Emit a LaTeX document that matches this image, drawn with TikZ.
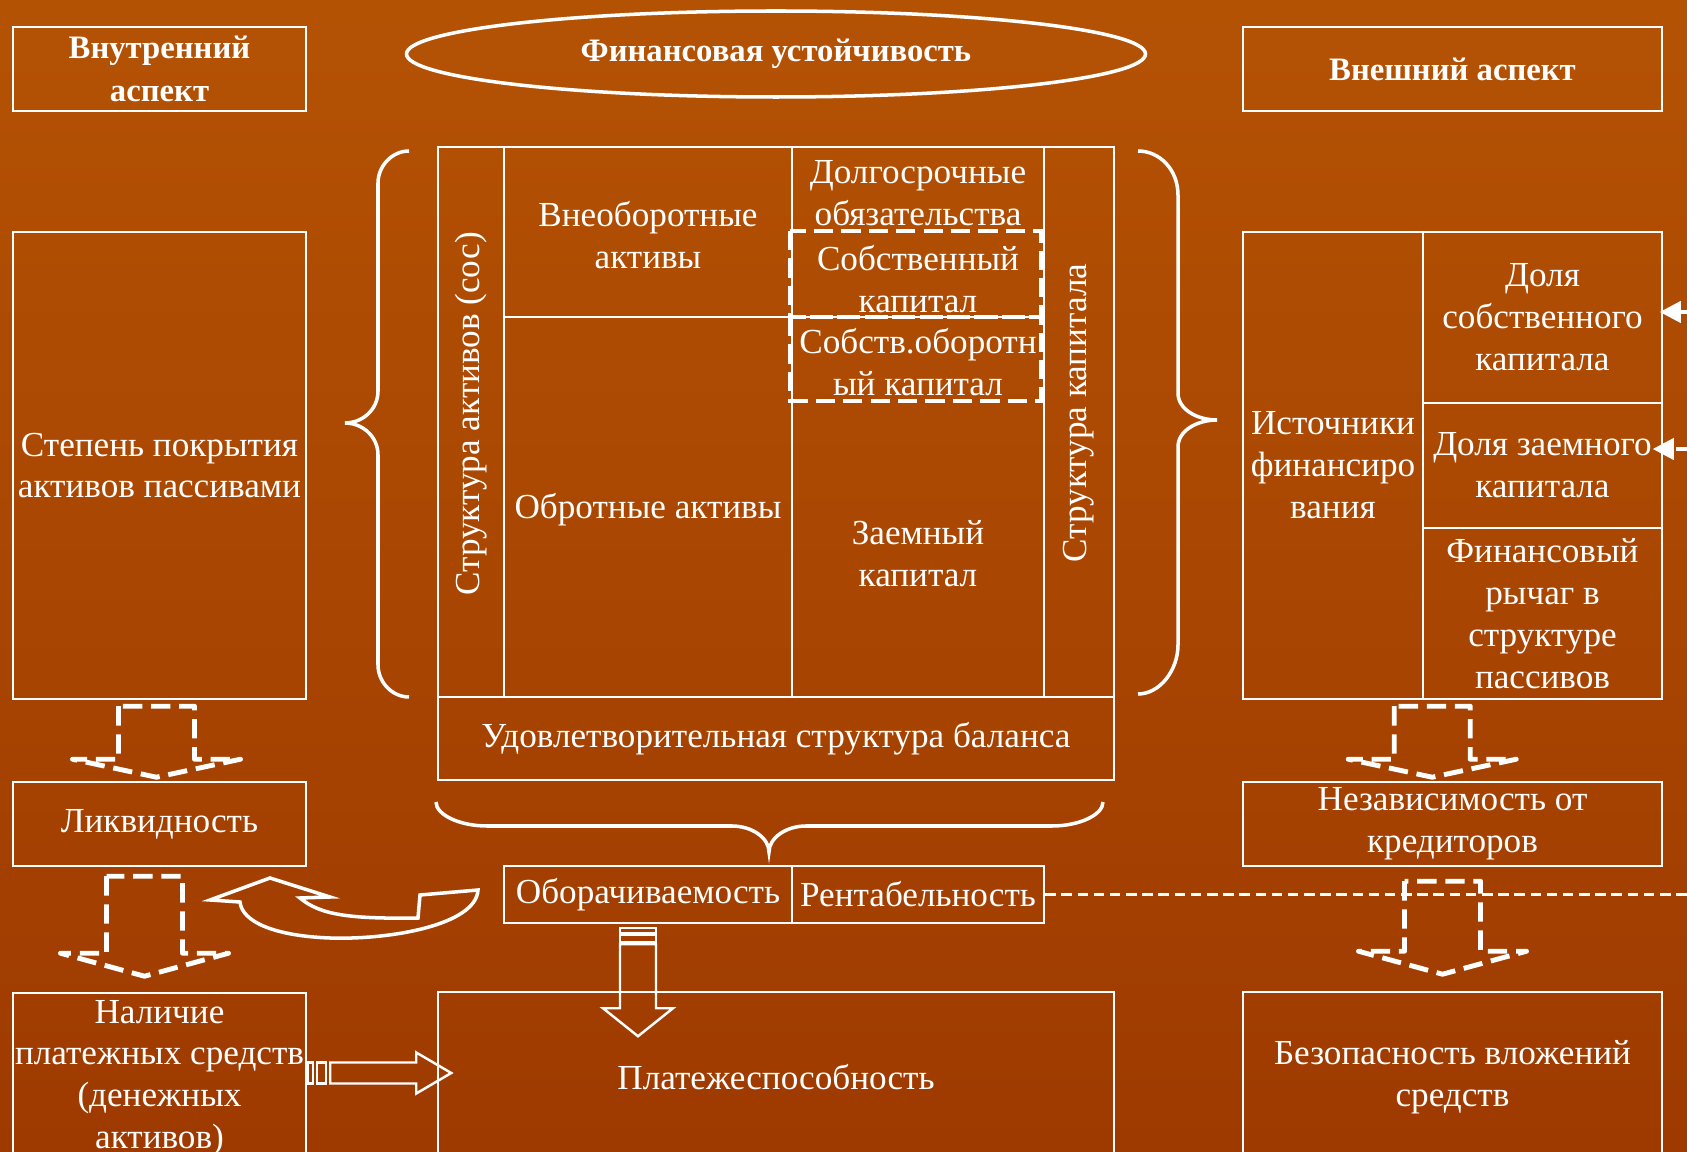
\documentclass[tikz,border=0pt]{standalone}
\usepackage{fontspec}
\setmainfont{Liberation Serif}
\usepackage{graphicx}
\usetikzlibrary{shapes.geometric,arrows.meta,calc}
\definecolor{bgtop}{RGB}{180,82,4}
\definecolor{bgbot}{RGB}{158,58,0}
\begin{document}
\begin{tikzpicture}[x=0.01cm,y=-0.01cm,
  bx/.style={draw=white,line width=.7pt,text=white,align=center,inner sep=0pt,
    font=\fontsize{10}{11.9}\selectfont},
  txt/.style={text=white,align=center,inner sep=0pt,font=\fontsize{10}{11.9}\selectfont},
  hd/.style={font=\fontsize{9.3}{12.4}\selectfont\bfseries},
  sz/.style 2 args={minimum width=#1*0.01cm,minimum height=#2*0.01cm},
  brc/.style={draw=white,line width=1pt},
  dbox/.style={draw=white,line width=1.1pt,dash pattern=on 5.5pt off 2.3pt},
  darr/.style={draw=white,line width=1.4pt,line join=round,dash pattern=on 5.5pt off 2.5pt},
  sarr/.style={draw=white,line width=.7pt},
  dline/.style={draw=white,line width=1.1pt,dash pattern=on 3pt off 1.6pt}]%
% pixel grid of the slide, y pointing down
\ifx\wlw\undefined\newdimen\wlw\fi
\global\def\wdraw{\draw[line width=\wlw,white]}
\global\def\wstop{;}
\global\def\dnarr(#1)#2#3{\draw[darr] (#1) ++(-38,0)
 -- ++(0,#2) -- ++(-46,0) -- ++(84,#3) -- ++(84,-#3) -- ++(-46,0)
 -- ++(0,-#2) -- cycle;}
\wlw=0.7pt
\shade[top color=bgtop,bottom color=bgbot] (0,0) rectangle (1687,1152);
\useasboundingbox (0,0) rectangle (1687,1152);
\node[bx,hd,sz={293}{84}] (vnutr) at (159.5,69) {Внутренний\\аспект};
\node[bx,hd,sz={419}{84}] (vnesh) at (1452.5,69) {Внешний аспект};
\node[ellipse,bx,hd,line width=1pt,sz={739}{86}] (fu) at (776,54) {Финансовая устойчивость};
\node[bx,sz={293}{467}] (pokr) at (159.5,465.5) {Степень покрытия\\активов пассивами};
\node[bx,sz={293}{84}] (likv) at (159.5,824) {Ликвидность};
\node[bx,sz={293}{170}] (nalich) at (159.5,1078) {Наличие\\платежных средств\\(денежных\\активов)};
\node[bx,sz={180}{467}] (ist) at (1333,465.5) {Источники\\финансиро\\вания};
\node[bx,sz={239}{171}] (dol1) at (1542.5,317.5) {Доля\\собственного\\капитала};
\node[bx,sz={239}{125}] (dol2) at (1542.5,465.5) {Доля заемного\\капитала};
\node[bx,sz={239}{171}] (fin) at (1542.5,613.5) {Финансовый\\рычаг в\\структуре\\пассивов};
\node[bx,sz={419}{84}] (nezav) at (1452.5,824) {Независимость от\\кредиторов};
\node[bx,sz={419}{170}] (bezop) at (1452.5,1077) {Безопасность вложений\\средств};
\wdraw (438,147) rectangle (1114,697)\wstop
\wdraw (504,147)
 --(504,697)\wstop
\wdraw (792,147)
 --(792,697)\wstop
\wdraw (1044,147)
 --(1044,697)\wstop
\wdraw (504,317)
 --(1044,317)\wstop
\draw[dbox] (790,231) rectangle (1041,317);
\draw[dbox] (790,317) rectangle (1041,401);
\node[txt] (sa) at (471,414) {\rotatebox{90}{Структура активов (сос)}};
\node[txt] (vneob) at (648,235) {Внеоборотные\\активы};
\node[txt] (obor) at (648,510) {Обротные активы};
\node[txt] (dolg) at (918,193) {Долгосрочные\\обязательства};
\node[txt] (sobk) at (918,279) {Собственный\\капитал};
\node[txt] (sok) at (918,362) {Собств.оборотн\\ый капитал};
\node[txt] (zaem) at (918,554) {Заемный\\капитал};
\node[txt] (sk) at (1079,413) {\rotatebox{90}{Структура капитала}};
\node[bx,sz={676}{83}] (udov) at (776,738.5) {Удовлетворительная структура баланса};
\node[bx,sz={288}{57}] (oborach) at (648,894.5) {Оборачиваемость};
\node[bx,sz={252}{57}] (rent) at (918,894.5) {Рентабельность};
\node[bx,sz={676}{170}] (platezh) at (776,1077) {Платежеспособность};
% braces
\draw[brc] (409,151) .. controls (392,151) and (378,166) .. (378,183)
 -- (378,391) .. controls (378,410) and (362,423) .. (345,423)
 .. controls (362,423) and (378,436) .. (378,455)
 -- (378,665) .. controls (378,682) and (392,697) .. (409,697);
\draw[brc] (1138,151) .. controls (1160,151) and (1178,170) .. (1178,195)
 -- (1178,393) .. controls (1178,410) and (1198,420) .. (1217,420)
 .. controls (1198,420) and (1178,430) .. (1178,447)
 -- (1178,645) .. controls (1178,670) and (1160,694) .. (1138,694);
\draw[brc] (436,802) .. controls (436,815) and (460,826) .. (487,826)
 -- (732,826) .. controls (752,826) and (769,838) .. (769,852)
 .. controls (769,838) and (786,826) .. (806,826)
 -- (1052,826) .. controls (1079,826) and (1103,815) .. (1103,802);
% dashed block arrows
\coordinate (d1) at ($(pokr.south)+(-3,6)$);
\coordinate (d2) at ($(likv.south)+(-15,9)$);
\coordinate (d3) at ($(ist.south east)+(8,6)$);
\coordinate (d4) at ($(nezav.south)+(-10,14)$);
\dnarr(d1){53}{18}
\dnarr(d2){77}{23}
\dnarr(d3){53}{18}
\dnarr(d4){70}{23}
% striped arrows
\coordinate (s1) at ($(oborach.south)+(-10,4)$);
\draw[sarr] (s1) ++(-18,0) rectangle ++(36,5);
\draw[sarr] (s1) ++(-18,7) rectangle ++(36,7);
\draw[sarr] (s1) ++(-18,16)
 -- ++(0,64) -- ++(-17,0) -- ++(35,28) -- ++(35,-28) -- ++(-17,0)
 -- ++(0,-64) -- cycle;
\coordinate (s2) at ($(nalich.east)+(1,-5)$);
\draw[sarr] (s2) ++(0,-10.5) rectangle ++(5,21);
\draw[sarr] (s2) ++(9,-10.5) rectangle ++(9,21);
\draw[sarr] (s2) ++(22,-10.5)
 -- ++(86,0) -- ++(0,-10) -- ++(35,20.5) -- ++(-35,20.5) -- ++(0,-10)
 -- ++(-86,0) -- cycle;
% u-turn arrow
\draw[sarr,line width=1pt] (210,900) -- (270,878) -- (330,897) -- (300,898)
 .. controls (320,915) and (350,919) .. (418,918)
 -- (420,895) -- (478,890)
 .. controls (476,925) and (390,940) .. (330,938)
 .. controls (275,936) and (242,922) .. (240,902) -- cycle;
% dashed connectors
\coordinate (redge) at (1687,896);
\coordinate (r1) at (1687,312);
\coordinate (r2) at (1687,449);
\draw[dline] (rent.east) -- (rent.east -| redge);
\draw[dline,-{Triangle[length=6pt,width=6pt]}] (r1) -- ([xshift=-1pt]r1 -| dol1.east);
\draw[dline,-{Triangle[length=6pt,width=6pt]}] (r2) -- ([xshift=-3pt]r2 -| dol2.east);
\end{tikzpicture}
\end{document}
